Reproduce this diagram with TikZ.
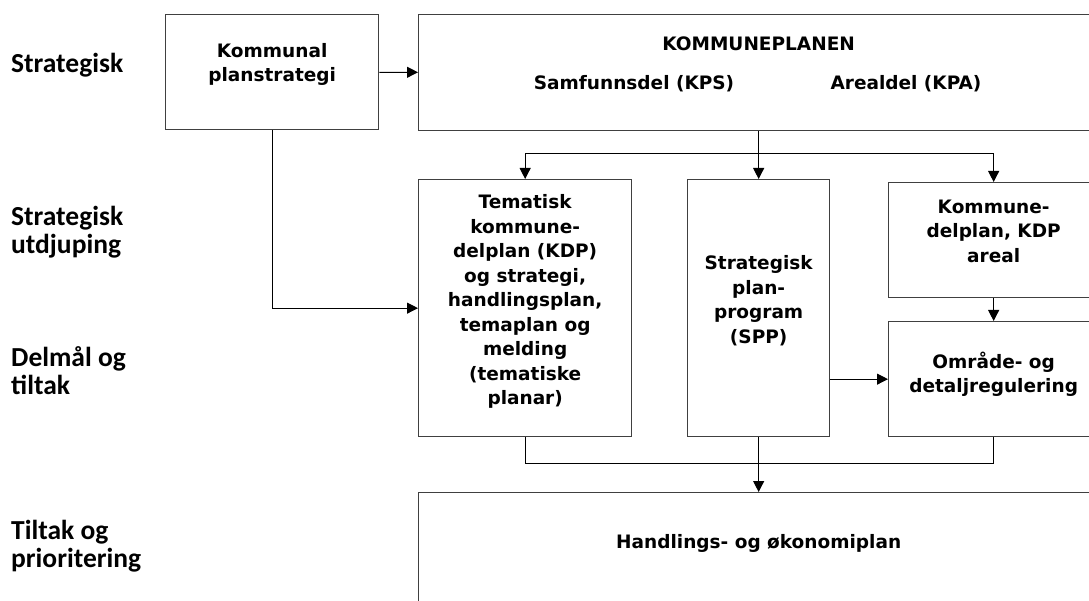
\documentclass[tikz,border=0pt]{standalone}
\usepackage{fontspec}
\setmainfont{DejaVu Sans}
\newfontfamily\labelfont{Carlito}
\usetikzlibrary{arrows.meta,positioning}

\begin{document}
\begin{tikzpicture}[x=1pt,y=-1pt,
  box/.style={draw=black!75,line width=1.3pt,anchor=north west,inner sep=0pt},
  txt/.style={align=center,inner sep=0pt,font=\fontsize{18.5}{24.5}\selectfont\bfseries},
  lvl/.style={align=left,anchor=north west,inner sep=0pt,font=\fontsize{27.5}{28}\selectfont\labelfont\bfseries},
  conn/.style={line width=1pt},
  arr/.style={conn,-{Triangle[length=11pt,width=11pt]}}]
\useasboundingbox (0,0) rectangle (1089,601);
\clip (0,0) rectangle (1089,601);

% levels on the left
\node[lvl] (l_1) at (11,53)  {Strategisk};
\node[lvl] (l_2) at (11,206) {Strategisk\\utdjuping};
\node[lvl] (l_3) at (11,346) {Delmål og\\tiltak};
\node[lvl] (l_4) at (11,520) {Tiltak og\\prioritering};

% boxes
\node[box,minimum width=213pt,minimum height=115pt] (strat) at (165,14)  {};
\node[box,minimum width=680pt,minimum height=116pt] (kplan) at (418,14)  {};
\node[box,minimum width=213pt,minimum height=257pt] (tema)  at (418,179) {};
\node[box,minimum width=142pt,minimum height=257pt] (spp)   at (687,179) {};
\node[box,minimum width=210pt,minimum height=115pt] (kdp)   at (888,182) {};
\node[box,minimum width=210pt,minimum height=115pt] (omr)   at (888,321) {};
\node[box,minimum width=680pt,minimum height=120pt] (hop)   at (418,492) {};

% texts
\node[txt,below=29pt of strat.north] (strat_t) {Kommunal\\planstrategi};
\node[txt,below=22.5pt of kplan.north] (kplan_t) {KOMMUNEPLANEN};
\node[txt,anchor=base] (kps) at (634,89.5) {Samfunnsdel (KPS)};
\node[txt,anchor=base] (kpa) at (906,89.5) {Arealdel (KPA)};
\node[txt,below=15.5pt of tema.north] (tema_t) {Tematisk\\kommune-\\delplan (KDP)\\og strategi,\\handlingsplan,\\temaplan og\\melding\\(tematiske\\planar)};
\node[txt,below=76.5pt of spp.north] (spp_t) {Strategisk\\plan-\\program\\(SPP)};
\node[txt,below=17.5pt of kdp.north] (kdp_t) {Kommune-\\delplan, KDP\\areal};
\node[txt,below=30.5pt of omr.north] (omr_t) {Område- og\\detaljregulering};
\node[txt,below=42.5pt of hop.north] (hop_t) {Handlings- og økonomiplan};

% connectors
\draw[arr] (strat) -- (kplan);
\draw[arr] (strat) |- (tema);
\draw[conn] (kplan.south) -- ++(0,22) coordinate (fork);
\draw[arr] (fork) -| (tema);
\draw[arr] (fork) -- (spp);
\draw[arr] (fork) -| (kdp);
\draw[arr] (kdp) -- (omr);
\draw[arr] (spp.east |- omr.west) -- (omr.west);
\draw[conn] (tema.south) -- ++(0,26) -| (omr.south);
\draw[arr] (spp) -- (hop);
\end{tikzpicture}
\end{document}
